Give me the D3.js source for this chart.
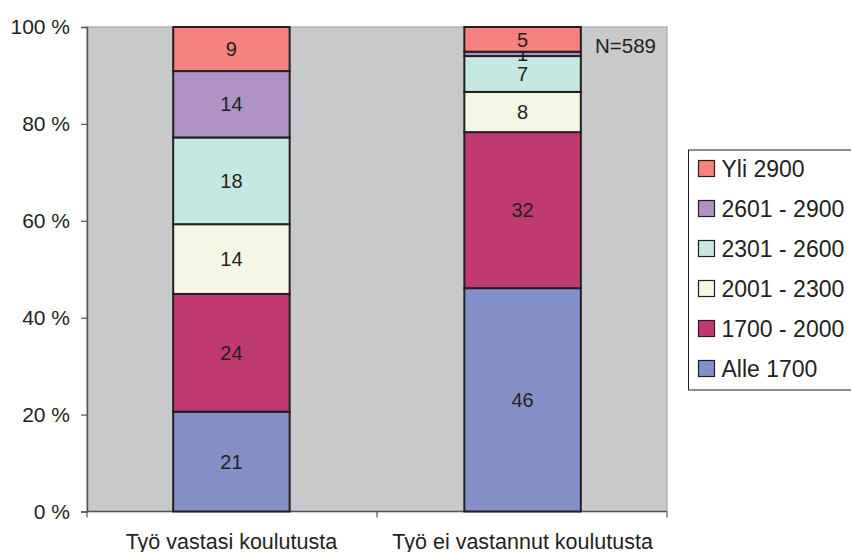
<!DOCTYPE html>
<html>
  <head>
    <meta charset="utf-8">
    <title>Palkka ja koulutus</title>
    <script src="https://d3js.org/d3.v7.min.js"></script>
    <style>
      body { margin: 0; background: #fff; }
      text { font-family: "Liberation Sans", Arial, sans-serif; fill: #231f20; }
    </style>
  </head>
  <body>
    <script>
      var width = 851;
      var height = 552;

      var categories = ["Työ vastasi koulutusta", "Työ ei vastannut koulutusta"];
      var seriesNames = ["Alle 1700", "1700 - 2000", "2001 - 2300", "2301 - 2600", "2601 - 2900", "Yli 2900"];
      // shares in %; labels show them rounded
      var alle1700 = [20.6, 46.1];
      var s1700_2000 = [24.3, 32.2];
      var s2001_2300 = [14.4, 8.3];
      var s2301_2600 = [17.9, 7.4];
      var s2601_2900 = [13.7, 0.9];
      var yli2900 = [9.1, 5.1];
      var yTicks = [0, 20, 40, 60, 80, 100];
      var colors = ["#8490c8", "#c03a72", "#f5f6e3", "#c7e8e2", "#ae92c4", "#f4837f"];

      var seriesValues = [alle1700, s1700_2000, s2001_2300, s2301_2600, s2601_2900, yli2900];
      var data = categories.map(function(c, i) {
        var row = {category: c};
        seriesNames.forEach(function(s, j) { row[s] = seriesValues[j][i]; });
        return row;
      });

      var series = d3.stack()
          .keys(seriesNames)(data);

      var plot = {left: 87, top: 27, right: 667, bottom: 511.5};

      var xScale = d3.scaleBand()
          .domain(categories)
          .range([plot.left, plot.right])
          .paddingInner(0.6)
          .paddingOuter(0.296);

      var yScale = d3.scaleLinear()
          .domain([0, 100])
          .range([plot.bottom, plot.top]);

      var colorScale = d3.scaleOrdinal(seriesNames, colors);

      var svg = d3.select("body")
        .append("svg")
          .attr("width", width)
          .attr("height", height);

      svg.append("rect")
          .attr("x", plot.left)
          .attr("y", plot.top)
          .attr("width", plot.right - plot.left)
          .attr("height", plot.bottom - plot.top)
          .attr("fill", "#c8c9cb")
          .attr("stroke", "#a6a7a9")
          .attr("stroke-width", 1.2);

      var yAxis = svg.append("g")
          .attr("transform", "translate(" + plot.left + ",0)")
          .call(d3.axisLeft(yScale).tickValues(yTicks).tickSize(6).tickPadding(11)
            .tickFormat(function(d) { return d + " %"; }));
      yAxis.select(".domain").attr("stroke", "#555").attr("stroke-width", 1.5);
      yAxis.selectAll(".tick line").attr("stroke", "#555").attr("stroke-width", 1.2);
      yAxis.selectAll("text").attr("font-size", 21).attr("fill", "#231f20")
          .attr("font-family", "Liberation Sans, Arial, sans-serif");

      var xAxis = svg.append("g")
          .attr("transform", "translate(0," + plot.bottom + ")");
      xAxis.append("line")
          .attr("x1", plot.left).attr("x2", plot.right)
          .attr("stroke", "#555").attr("stroke-width", 1.5);
      xAxis.selectAll("line.tick")
        .data([plot.left, (plot.left + plot.right) / 2, plot.right])
        .enter()
        .append("line")
          .attr("class", "tick")
          .attr("x1", function(d) { return d; })
          .attr("x2", function(d) { return d; })
          .attr("y2", 6)
          .attr("stroke", "#555").attr("stroke-width", 1.2);
      xAxis.selectAll("text")
        .data(categories)
        .enter()
        .append("text")
          .attr("x", function(d) { return xScale(d) + xScale.bandwidth() / 2; })
          .attr("y", 37)
          .attr("text-anchor", "middle")
          .attr("font-size", 21.5)
          .text(function(d) { return d; });

      var layers = svg.append("g")
        .selectAll("g")
        .data(series)
        .enter()
        .append("g")
          .attr("fill", function(d) { return colorScale(d.key); });

      layers.selectAll("rect")
        .data(function(d) { return d; })
        .enter()
        .append("rect")
          .attr("x", function(d) { return xScale(d.data.category); })
          .attr("y", function(d) { return yScale(d[1]); })
          .attr("width", xScale.bandwidth())
          .attr("height", function(d) { return yScale(d[0]) - yScale(d[1]); })
          .attr("stroke", "#231f20")
          .attr("stroke-width", 2);

      layers.selectAll("text")
        .data(function(d) { return d.map(function(p) { p.key = d.key; return p; }); })
        .enter()
        .append("text")
          .attr("x", function(d) { return xScale(d.data.category) + xScale.bandwidth() / 2; })
          .attr("y", function(d) { return yScale((d[0] + d[1]) / 2); })
          .attr("dy", "0.36em")
          .attr("text-anchor", "middle")
          .attr("font-size", 20)
          .text(function(d) { return Math.round(d.data[d.key]); });

      svg.append("text")
          .attr("x", 595)
          .attr("y", 52.5)
          .attr("font-size", 20.5)
          .text("N=589");

      var legend = svg.append("g");
      legend.append("rect")
          .attr("x", 688.5)
          .attr("y", 150)
          .attr("width", 170)
          .attr("height", 240)
          .attr("fill", "#fff")
          .attr("stroke", "#231f20")
          .attr("stroke-width", 1);

      var legendItems = legend.selectAll("g")
        .data(seriesNames.slice().reverse())
        .enter()
        .append("g")
          .attr("transform", function(d, i) { return "translate(698.5," + (169 + i * 40) + ")"; });
      legendItems.append("rect")
          .attr("y", -8.5)
          .attr("width", 16)
          .attr("height", 16)
          .attr("fill", function(d) { return colorScale(d); })
          .attr("stroke", "#231f20")
          .attr("stroke-width", 1.2);
      legendItems.append("text")
          .attr("x", 23)
          .attr("dy", "0.36em")
          .attr("font-size", 23)
          .text(function(d) { return d; });
    </script>
  </body>
</html>
